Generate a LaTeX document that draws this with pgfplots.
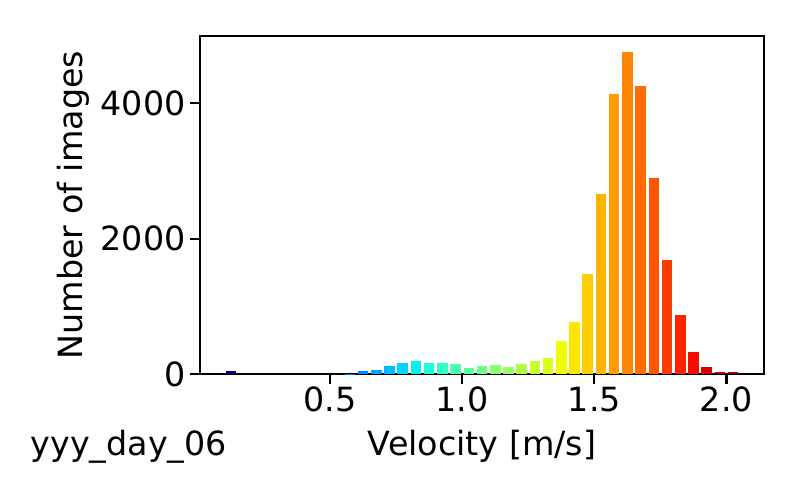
\documentclass[border=0pt]{standalone}
\usepackage{fontspec}
\setmainfont{DejaVu Sans}
\usepackage{pgfplots}
\usepackage{pgfplotstable}
\pgfplotsset{compat=1.18}
\definecolor{jc0}{rgb}{0,0,0.5}
\definecolor{jc1}{rgb}{0,0,0.617}
\definecolor{jc2}{rgb}{0,0,0.733}
\definecolor{jc3}{rgb}{0,0,0.850}
\definecolor{jc4}{rgb}{0,0,0.966}
\definecolor{jc5}{rgb}{0,0.013,1}
\definecolor{jc6}{rgb}{0,0.115,1}
\definecolor{jc7}{rgb}{0,0.218,1}
\definecolor{jc8}{rgb}{0,0.321,1}
\definecolor{jc9}{rgb}{0,0.423,1}
\definecolor{jc10}{rgb}{0,0.526,1}
\definecolor{jc11}{rgb}{0,0.628,1}
\definecolor{jc12}{rgb}{0,0.731,1}
\definecolor{jc13}{rgb}{0,0.833,1}
\definecolor{jc14}{rgb}{0.029,0.936,0.939}
\definecolor{jc15}{rgb}{0.112,1,0.856}
\definecolor{jc16}{rgb}{0.194,1,0.773}
\definecolor{jc17}{rgb}{0.277,1,0.690}
\definecolor{jc18}{rgb}{0.360,1,0.608}
\definecolor{jc19}{rgb}{0.443,1,0.525}
\definecolor{jc20}{rgb}{0.525,1,0.443}
\definecolor{jc21}{rgb}{0.608,1,0.360}
\definecolor{jc22}{rgb}{0.690,1,0.277}
\definecolor{jc23}{rgb}{0.773,1,0.194}
\definecolor{jc24}{rgb}{0.856,1,0.112}
\definecolor{jc25}{rgb}{0.939,0.996,0.029}
\definecolor{jc26}{rgb}{1,0.901,0}
\definecolor{jc27}{rgb}{1,0.806,0}
\definecolor{jc28}{rgb}{1,0.711,0}
\definecolor{jc29}{rgb}{1,0.616,0}
\definecolor{jc30}{rgb}{1,0.521,0}
\definecolor{jc31}{rgb}{1,0.427,0}
\definecolor{jc32}{rgb}{1,0.332,0}
\definecolor{jc33}{rgb}{1,0.237,0}
\definecolor{jc34}{rgb}{1,0.142,0}
\definecolor{jc35}{rgb}{0.966,0.047,0}
\definecolor{jc36}{rgb}{0.850,0,0}
\definecolor{jc37}{rgb}{0.733,0,0}
\definecolor{jc38}{rgb}{0.617,0,0}
\pgfplotstableread{
x y
0.125 40
0.175 0
0.225 0
0.275 0
0.325 0
0.375 0
0.425 0
0.475 0
0.525 0
0.575 5
0.625 40
0.675 64
0.725 113
0.775 157
0.825 197
0.875 167
0.925 167
0.975 152
1.025 93
1.075 113
1.125 127
1.175 110
1.225 142
1.275 186
1.325 244
1.375 482
1.425 776
1.475 1473
1.525 2657
1.575 4142
1.625 4757
1.675 4250
1.725 2893
1.775 1680
1.825 867
1.875 320
1.925 98
1.975 35
2.025 30
}\datatable
\begin{document}
\fontsize{12pt}{14.4pt}\selectfont
\begin{tikzpicture}
\useasboundingbox (-72pt,-45.36pt) rectangle (216pt,134.64pt);
\begin{axis}[
  at={(0,0)}, anchor=south west,
  scale only axis, width=203.04pt, height=121.68pt,
  xmin=0.008, xmax=2.142, ymin=0, ymax=4995,
  axis line style={line width=0.8pt, black},
  tick align=outside, tick pos=left,
  major tick length=3.5pt,
  every tick/.style={black, line width=0.8pt},
  xtick={0.5,1,1.5,2}, xticklabels={0.5,1.0,1.5,2.0},
  ytick={0,2000,4000}, yticklabels={0,2000,4000},
  xticklabel style={anchor=north, inner sep=0pt, yshift=-1pt},
  yticklabel style={anchor=east, inner sep=0pt, xshift=-1.5pt},
  xlabel={Velocity [m/s]},
  ylabel={Number of images},
  every axis x label/.style={at={(axis description cs:0.5,0)}, anchor=base, yshift=-29.5pt},
  every axis y label/.style={at={(axis description cs:0,0.5)}, xshift=-42.2pt, rotate=90, anchor=base},
  clip=false,
]
\pgfplotsinvokeforeach{0,...,38}{
  \addplot[ybar, bar width=0.04, bar shift=0pt, draw=none, fill=jc#1,
    restrict expr to domain={\coordindex}{#1:#1}] table[x=x,y=y]{\datatable};
}
\end{axis}
\node[anchor=base west, inner sep=0pt] at (-61.2pt,-29.5pt) {yyy\_day\_06};
\end{tikzpicture}
\end{document}
